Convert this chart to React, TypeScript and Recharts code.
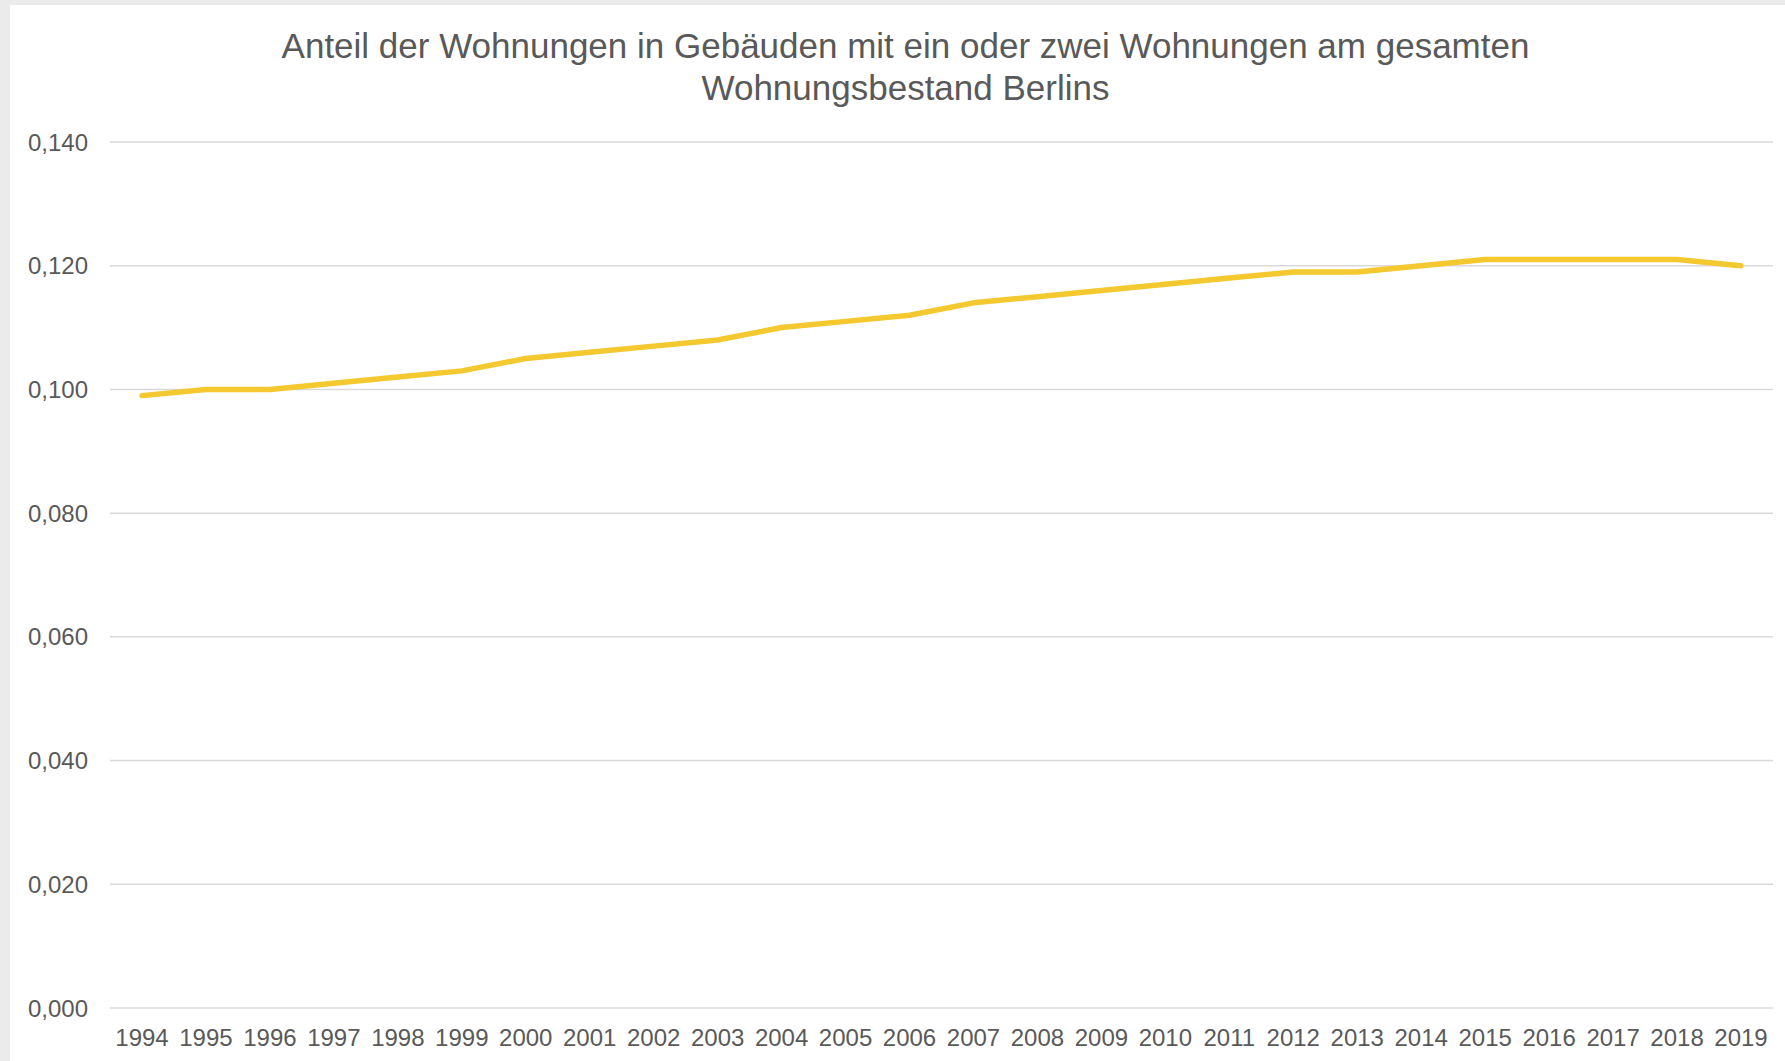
import React from 'react'
import { LineChart, Line, XAxis, YAxis, CartesianGrid } from 'recharts'

// Anteil der Wohnungen in Gebäuden mit 1-2 Wohnungen, Berlin
const years = [
  '1994', '1995', '1996', '1997', '1998', '1999', '2000', '2001', '2002', '2003',
  '2004', '2005', '2006', '2007', '2008', '2009', '2010', '2011', '2012', '2013',
  '2014', '2015', '2016', '2017', '2018', '2019',
]
const shares = [
  0.099, 0.1, 0.1, 0.101, 0.102, 0.103, 0.105, 0.106, 0.107, 0.108,
  0.11, 0.111, 0.112, 0.114, 0.115, 0.116, 0.117, 0.118, 0.119, 0.119,
  0.12, 0.121, 0.121, 0.121, 0.121, 0.12,
]
const yTicks = [0, 0.02, 0.04, 0.06, 0.08, 0.1, 0.12, 0.14]

const titleLines = [
  'Anteil der Wohnungen in Gebäuden mit ein oder zwei Wohnungen am gesamten',
  'Wohnungsbestand Berlins',
]

const font = '"Liberation Sans", Arial, sans-serif'
const textColor = '#595959'

export default function App() {
  const data = years.map((y, i) => ({ year: y, value: shares[i] }))

  return (
    <div
      style={{
        position: 'absolute',
        left: 0,
        top: 0,
        width: 1785,
        height: 1061,
        background: '#ebebeb',
        overflow: 'hidden',
      }}
    >
      <div
        style={{
          position: 'absolute',
          left: 10,
          top: 5,
          width: 1775,
          height: 1056,
          background: '#ffffff',
        }}
      >
        <LineChart
          width={1775}
          height={1056}
          data={data}
          margin={{ top: 137, right: 12, left: 0, bottom: 3 }}
        >
          <CartesianGrid vertical={false} stroke="#d9d9d9" strokeWidth={1.5} />
          <XAxis
            dataKey="year"
            interval={0}
            axisLine={false}
            tickLine={false}
            tickSize={0}
            tickMargin={21}
            height={50}
            padding={{ left: 32, right: 32 }}
            tick={{ fill: textColor, fontSize: 24, fontFamily: font }}
          />
          <YAxis
            domain={[0, 0.14]}
            ticks={yTicks}
            width={100}
            axisLine={false}
            tickLine={false}
            tickSize={0}
            tickMargin={22}
            tickFormatter={(v: number) => v.toFixed(3).replace('.', ',')}
            tick={{ fill: textColor, fontSize: 24, fontFamily: font }}
          />
          <Line
            type="linear"
            dataKey="value"
            stroke="#f4c82f"
            strokeWidth={5.5}
            strokeLinecap="round"
            strokeLinejoin="round"
            dot={false}
            isAnimationActive={false}
          />
        </LineChart>
      </div>
      <div
        style={{
          position: 'absolute',
          left: 26,
          top: 25,
          width: 1759,
          textAlign: 'center',
          fontFamily: font,
          fontSize: 35,
          lineHeight: '42px',
          color: textColor,
          pointerEvents: 'none',
        }}
      >
        {titleLines.map((t) => (
          <div key={t}>{t}</div>
        ))}
      </div>
    </div>
  )
}
